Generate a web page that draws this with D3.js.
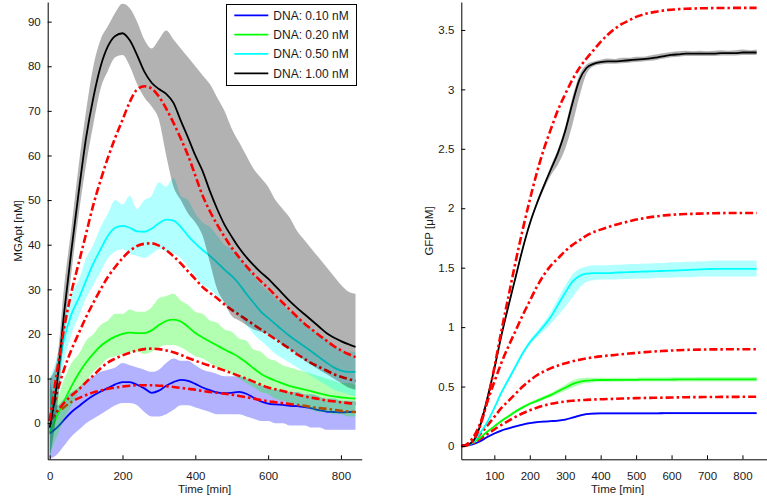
<!DOCTYPE html>
<html>
<head>
<meta charset="utf-8">
<script src="https://cdn.jsdelivr.net/npm/d3@7"></script>
<style>
  html, body { margin: 0; padding: 0; background: #fff; }
  svg { display: block; font-family: "Liberation Sans", Arial, Helvetica, sans-serif; }
</style>
</head>
<body>
<svg id="chart" width="767" height="500"></svg>
<script>
// ---------------- DATA ----------------
const seriesNames = ["DNA: 0.10 nM", "DNA: 0.20 nM", "DNA: 0.50 nM", "DNA: 1.00 nM"];
const seriesColors = ["#0000ff", "#00ff00", "#00ffff", "#000000"];
const modelColor = "#ff0000";

// Left panel: MGApt [nM] vs Time [min]
const timeL = [0,20,40,60,80,100,120,140,160,180,200,220,240,260,280,300,320,340,360,380,400,420,440,460,480,500,520,540,560,580,600,620,640,660,680,700,720,740,760,780,800,820,840];

const mgaBlue   = [-2.3,-1,0.8,2.5,3.8,5.1,6.2,7.1,7.9,8.7,9.2,9.2,8.6,7.8,6.8,7.3,8.4,9.2,9.7,9.5,8.8,8,7.4,6.9,6.7,6.8,7,6.6,5.7,4.9,4.4,4.2,4.1,3.9,3.8,3.6,3.3,2.9,2.6,2.5,2.4,2.5,2.5];
const mgaBlueHi = [10,4,5.5,7,8,9.5,10.5,11.5,12,12.5,13.5,13,12.5,12,11.5,12,13.5,14.5,14,14,13,12,11.5,11,10.5,10.5,10.5,10,9,8.5,8,7.5,7.5,7,7,6.5,6.5,6,5.5,5.5,5,5,5];
const mgaBlueLo = [-8,-7,-5,-3,-1.5,0,1,2,3,4,4.5,4.5,4,2.5,1.5,1.5,2,3,4,4,3.5,3,2.5,2,2,2,2,1.5,1,0.5,0.5,0,0,-0.5,-0.5,-0.5,-1,-1,-1.5,-1.5,-1.5,-1.5,-1.5];
const modelBlue = [0.5,2.2,3.6,4.8,5.6,6.3,6.9,7.3,7.7,8,8.2,8.4,8.5,8.5,8.5,8.4,8.3,8.1,7.9,7.7,7.5,7.2,7,6.8,6.6,6.4,6.1,5.8,5.5,5.2,4.9,4.7,4.5,4.3,4.1,3.9,3.6,3.4,3.2,3,2.8,2.6,2.5];

const mgaGreen   = [-2,1.5,5,8.3,11.2,13.6,15.6,17.3,18.5,19.4,20,20.3,20.2,20.2,20.8,22,22.9,23.2,22.8,21.6,20.2,19.2,18.3,17.4,16.5,15.7,14.8,13.6,12.3,11.1,10.2,9.5,8.9,8.3,7.9,7.5,7.1,6.7,6.3,6,5.8,5.6,5.5];
const mgaGreenHi = [8,6,10,13.5,15.5,18.5,20,22,23,24.5,24.5,25.5,25,25,26,28,28.5,29,27.5,26.5,25,24.5,23,22.5,21,20.5,19,18.5,16.5,16,14.5,14,13,12.5,12,11.5,11,10.5,10,9.5,9,9,8.5];
const mgaGreenLo = [-7,-3,1,4,7,9.5,11.5,13,14.5,15,15.5,16,16,15.5,16,17,17.5,17.5,17,16,15,14.5,13.5,12.5,12,11,10,9,8,7,6.5,5.5,5,4.5,4,3.5,3,2.5,2.5,2,2,1.5,1.5];
const modelGreen = [0.5,2.6,4.6,6.2,7.6,9.2,10.7,12.3,13.6,14.5,15.2,15.8,16.3,16.6,16.7,16.6,16.3,15.9,15.3,14.6,14,13.4,12.9,12.4,11.8,11.2,10.6,10,9.3,8.6,8,7.6,7.2,6.8,6.4,6,5.7,5.4,5.1,4.9,4.7,4.5,4.4];

const mgaCyan   = [-1.5,9.5,19,24.5,28,32,35.8,39,42,43.8,44.2,43.8,43,42.9,43.6,44.8,45.6,45.4,44,42,40.3,38.8,37.5,36,34.4,33,31.2,29,27,25,23.6,22.2,20.8,19.5,18.3,17.2,16,14.8,13.6,12.5,11.8,11.5,11.5];
const mgaCyanHi = [10,15,23,29,32,37,40,44,47,50,49,51,48,50,51,54,53,55,51,50,47,45,44,42,40,39,37,35,33,31,29.5,28,26.5,25,24,22.5,21,20,19,17.5,16.5,16,16];
const mgaCyanLo = [-8,4,14,20,24,28,31,34,37,38.5,39,38,37.5,37,38,39,38.5,38,37,35,33,31,30,28.5,27,25.5,24,22,20,18.5,17,15.5,14.5,13.5,12.5,11.5,10.5,9.5,8.5,7.5,7,6.5,6];
const modelCyan = [0.5,6.8,12.2,16.5,20.2,23.8,27,30,32.8,35,37,38.6,39.7,40.2,40.3,39.8,38.8,37.4,35.8,34,32.3,30.5,29.2,28,26.6,25.4,24.3,23.2,22.1,21,19.9,18.8,17.7,16.6,15.4,14.4,13.4,12.6,11.8,11,10.4,9.9,9.5];

const mgaBlack   = [-1,9,25,39,52,64,73,80,84.5,86.8,87.4,85.8,82.5,78.8,76.3,74.9,73.8,71.8,67.8,64,60,56.5,52,48,44.5,41.8,39.3,37.2,35.4,33.8,32.4,30.7,29,27.3,25.8,24.4,23,21.6,20.2,19.2,18.4,17.7,17.1];
const mgaBlackHi = [10,14,31,44,58,70,80,86,89,92,94,93,90,86,84,86,88,86,84,82,80,78,76,73,70,66,63,60,57,55,53,50,48,46,43,41,39,37,35,33,31,29.5,29];
const mgaBlackLo = [-8,3,20,34,47,58,67,75,79,82,82.5,80,76,73,71,68,60,53,50,47,45,42,36,30,27,24,23,22,21,20.5,20,19,17.5,16.5,15.5,14,13,12,11,10,9,8,7.5];
const modelBlack = [0.5,11.5,21.5,29.5,36,42.5,49,54.5,59.5,64,68,72,74.8,75.5,75,73.2,70.5,67.3,63.8,60,55.5,51,47.5,44.5,41.8,39.3,37.2,35.2,33.4,31.8,30.3,28.6,27,25.4,23.8,22.3,21,19.7,18.5,17.3,16.3,15.5,14.8];

// Right panel: GFP [uM] vs Time [min]
const timeR = [8,20,40,60,80,100,120,140,160,180,200,220,240,260,280,300,320,340,360,380,400,420,440,460,480,500,520,540,560,580,600,620,640,660,680,700,720,740,760,780,800,820,840];

const gfpBlue   = [0,0.003,0.015,0.04,0.075,0.105,0.13,0.148,0.165,0.18,0.192,0.2,0.205,0.209,0.213,0.222,0.238,0.255,0.268,0.273,0.275,0.275,0.275,0.275,0.275,0.275,0.275,0.275,0.275,0.276,0.276,0.276,0.276,0.276,0.276,0.276,0.276,0.276,0.276,0.276,0.276,0.276,0.276];
const gfpBlueHi = [0.008,0.011,0.023,0.048,0.083,0.113,0.138,0.156,0.173,0.188,0.2,0.208,0.213,0.217,0.221,0.23,0.246,0.263,0.276,0.281,0.283,0.283,0.284,0.283,0.284,0.283,0.284,0.283,0.284,0.285,0.284,0.285,0.284,0.285,0.284,0.285,0.284,0.285,0.284,0.285,0.284,0.285,0.284];
const gfpBlueLo = [-0.008,-0.005,0.007,0.032,0.067,0.097,0.122,0.14,0.157,0.172,0.184,0.192,0.197,0.201,0.205,0.214,0.23,0.247,0.26,0.265,0.267,0.267,0.266,0.267,0.266,0.267,0.266,0.267,0.266,0.268,0.267,0.268,0.267,0.268,0.267,0.268,0.267,0.268,0.267,0.268,0.267,0.268,0.267];
const modelGfpBlue = [0,0.005,0.025,0.06,0.1,0.14,0.177,0.212,0.245,0.275,0.3,0.322,0.34,0.355,0.366,0.374,0.38,0.385,0.388,0.391,0.393,0.395,0.397,0.399,0.401,0.403,0.404,0.405,0.406,0.407,0.408,0.409,0.41,0.411,0.411,0.412,0.412,0.413,0.413,0.413,0.414,0.414,0.414];

const gfpGreen   = [0,0.005,0.03,0.07,0.12,0.165,0.21,0.25,0.29,0.325,0.355,0.38,0.405,0.43,0.46,0.49,0.52,0.54,0.55,0.553,0.555,0.555,0.556,0.556,0.557,0.557,0.558,0.558,0.558,0.559,0.559,0.56,0.56,0.56,0.56,0.56,0.56,0.56,0.56,0.56,0.56,0.56,0.56];
const gfpGreenHi = [0.008,0.012,0.04,0.08,0.13,0.175,0.22,0.262,0.302,0.338,0.368,0.395,0.42,0.448,0.48,0.515,0.55,0.57,0.575,0.575,0.573,0.572,0.573,0.574,0.574,0.575,0.576,0.576,0.577,0.577,0.578,0.578,0.579,0.579,0.58,0.58,0.58,0.58,0.58,0.581,0.581,0.581,0.581];
const gfpGreenLo = [-0.008,-0.003,0.02,0.06,0.11,0.155,0.2,0.238,0.278,0.312,0.342,0.365,0.39,0.412,0.44,0.465,0.49,0.515,0.53,0.537,0.54,0.54,0.541,0.541,0.542,0.542,0.542,0.542,0.542,0.543,0.543,0.543,0.543,0.543,0.543,0.543,0.543,0.543,0.543,0.543,0.543,0.543,0.543];
const modelGfpGreen = [0,0.008,0.04,0.1,0.17,0.245,0.32,0.38,0.44,0.5,0.55,0.595,0.628,0.655,0.677,0.695,0.712,0.725,0.737,0.746,0.754,0.76,0.766,0.772,0.778,0.783,0.788,0.793,0.797,0.8,0.803,0.806,0.808,0.81,0.811,0.812,0.813,0.813,0.814,0.814,0.814,0.814,0.814];

const gfpCyan   = [0,0.005,0.03,0.11,0.2,0.32,0.45,0.56,0.67,0.78,0.87,0.94,1.01,1.09,1.19,1.29,1.38,1.43,1.45,1.455,1.455,1.455,1.458,1.46,1.462,1.465,1.467,1.469,1.471,1.473,1.475,1.477,1.48,1.483,1.486,1.488,1.49,1.49,1.49,1.49,1.49,1.49,1.49];
const gfpCyanHi = [0.01,0.015,0.04,0.12,0.215,0.335,0.465,0.58,0.69,0.8,0.89,0.965,1.04,1.13,1.24,1.35,1.44,1.49,1.51,1.52,1.52,1.52,1.525,1.525,1.53,1.53,1.535,1.535,1.54,1.54,1.545,1.545,1.55,1.55,1.555,1.555,1.56,1.56,1.56,1.56,1.56,1.56,1.56];
const gfpCyanLo = [-0.01,-0.005,0.02,0.1,0.185,0.305,0.435,0.54,0.65,0.76,0.85,0.915,0.97,1.03,1.1,1.17,1.25,1.33,1.38,1.395,1.4,1.4,1.4,1.405,1.405,1.41,1.41,1.41,1.415,1.415,1.415,1.42,1.42,1.42,1.425,1.425,1.425,1.425,1.425,1.425,1.425,1.425,1.425];
const modelGfpCyan = [0,0.01,0.07,0.19,0.37,0.54,0.7,0.84,0.97,1.1,1.22,1.34,1.44,1.52,1.58,1.64,1.69,1.73,1.77,1.8,1.82,1.84,1.86,1.875,1.89,1.905,1.915,1.925,1.933,1.94,1.945,1.948,1.951,1.953,1.955,1.957,1.958,1.959,1.96,1.96,1.96,1.96,1.96];

const gfpBlack   = [0,0.005,0.04,0.17,0.4,0.65,0.93,1.18,1.42,1.66,1.87,2.04,2.19,2.33,2.47,2.65,2.88,3.08,3.18,3.215,3.23,3.235,3.235,3.24,3.245,3.25,3.255,3.26,3.27,3.28,3.29,3.295,3.3,3.3,3.3,3.3,3.3,3.305,3.305,3.305,3.31,3.31,3.31];
const gfpBlackHi = [0.01,0.015,0.055,0.185,0.42,0.67,0.95,1.2,1.44,1.68,1.89,2.06,2.21,2.36,2.5,2.69,2.93,3.12,3.21,3.235,3.25,3.26,3.255,3.265,3.265,3.275,3.275,3.285,3.295,3.305,3.315,3.32,3.325,3.32,3.325,3.32,3.325,3.33,3.325,3.33,3.335,3.33,3.335];
const gfpBlackLo = [-0.01,-0.005,0.025,0.155,0.38,0.63,0.91,1.16,1.4,1.64,1.85,2.02,2.16,2.28,2.37,2.5,2.7,2.94,3.13,3.195,3.21,3.215,3.215,3.22,3.225,3.23,3.235,3.24,3.25,3.26,3.27,3.275,3.28,3.28,3.28,3.28,3.28,3.285,3.285,3.285,3.29,3.29,3.29];
const modelGfpBlack = [0,0.005,0.045,0.17,0.38,0.66,0.97,1.26,1.55,1.82,2.07,2.3,2.5,2.67,2.83,2.96,3.08,3.18,3.26,3.33,3.4,3.46,3.51,3.55,3.58,3.61,3.63,3.645,3.655,3.665,3.67,3.675,3.678,3.68,3.682,3.683,3.684,3.685,3.685,3.686,3.686,3.686,3.686];

// Ticks
const ticksLX = [0, 200, 400, 600, 800];
const ticksLY = [0, 10, 20, 30, 40, 50, 60, 70, 80, 90];
const ticksRX = [100, 200, 300, 400, 500, 600, 700, 800];
const ticksRY = [0, 0.5, 1, 1.5, 2, 2.5, 3, 3.5];

// ---------------- DRAW ----------------
const svg = d3.select("#chart");
const FONT = 11.5;
const TEXT = "#1a1a1a";

function panel(cfg) {
  const x = d3.scaleLinear().domain(cfg.xDomain).range(cfg.xRange);
  const y = d3.scaleLinear().domain(cfg.yDomain).range(cfg.yRange);
  const clipId = cfg.id + "-clip";
  svg.append("clipPath").attr("id", clipId).append("rect")
    .attr("x", cfg.xRange[0]).attr("y", cfg.yRange[1])
    .attr("width", cfg.xRange[1] - cfg.xRange[0])
    .attr("height", cfg.yRange[0] - cfg.yRange[1]);
  const g = svg.append("g").attr("clip-path", `url(#${clipId})`);

  cfg.series.forEach((s, i) => {
    const n = Math.min(cfg.time.length, s.mean.length, s.hi.length, s.lo.length);
    const pts = d3.range(n).map(k => ({t: cfg.time[k], m: s.mean[k], hi: s.hi[k], lo: s.lo[k]}));
    const area = d3.area().x(d => x(d.t)).y0(d => y(d.lo)).y1(d => y(d.hi)).curve(d3.curveMonotoneX);
    g.append("path").datum(pts).attr("d", area)
      .attr("fill", seriesColors[i]).attr("fill-opacity", 0.3).attr("stroke", "none");
    const line = d3.line().x(d => x(d.t)).y(d => y(d.m)).curve(d3.curveMonotoneX);
    g.append("path").datum(pts).attr("d", line)
      .attr("fill", "none").attr("stroke", seriesColors[i]).attr("stroke-width", 1.8)
      .attr("stroke-linejoin", "round");
    const mpts = d3.range(Math.min(cfg.time.length, s.model.length)).map(k => ({t: cfg.time[k], v: s.model[k]}));
    const mline = d3.line().x(d => x(d.t)).y(d => y(d.v)).curve(d3.curveMonotoneX);
    g.append("path").datum(mpts).attr("d", mline)
      .attr("fill", "none").attr("stroke", modelColor).attr("stroke-width", 2.6)
      .attr("stroke-dasharray", "8,3,2.5,3");
  });

  const ax = svg.append("g").attr("transform", `translate(0,${cfg.yRange[0]})`)
    .call(d3.axisBottom(x).tickValues(cfg.ticksX).tickSizeInner(-4).tickSizeOuter(0).tickPadding(13).tickFormat(d => String(d)));
  const ay = svg.append("g").attr("transform", `translate(${cfg.xRange[0]},0)`)
    .call(d3.axisLeft(y).tickValues(cfg.ticksY).tickSizeInner(-4).tickSizeOuter(0).tickPadding(7).tickFormat(d => String(d)));
  [ax, ay].forEach(a => {
    a.select(".domain").attr("stroke", "#000").attr("stroke-width", 1);
    a.selectAll(".tick line").attr("stroke", "#000").attr("stroke-width", 1);
    a.selectAll(".tick text").attr("fill", TEXT).style("font-size", FONT + "px")
      .style("font-family", '"Liberation Sans", Arial, Helvetica, sans-serif');
  });

  svg.append("text").attr("x", (cfg.xRange[0] + cfg.xRange[1]) / 2).attr("y", 493)
    .attr("text-anchor", "middle").attr("fill", TEXT).style("font-size", FONT + "px").text("Time [min]");
  svg.append("text").attr("transform", `translate(${cfg.yLabelX},231) rotate(-90)`)
    .attr("text-anchor", "middle").attr("fill", TEXT).style("font-size", FONT + "px").text(cfg.yLabel);
}

panel({
  id: "left",
  time: timeL,
  xDomain: [-5.5, 857], xRange: [47.7, 361.7],
  yDomain: [-8.1, 94.4], yRange: [459.3, 2],
  ticksX: ticksLX, ticksY: ticksLY,
  yLabel: "MGApt [nM]", yLabelX: 22,
  series: [
    {mean: mgaBlue, hi: mgaBlueHi, lo: mgaBlueLo, model: modelBlue},
    {mean: mgaGreen, hi: mgaGreenHi, lo: mgaGreenLo, model: modelGreen},
    {mean: mgaCyan, hi: mgaCyanHi, lo: mgaCyanLo, model: modelCyan},
    {mean: mgaBlack, hi: mgaBlackHi, lo: mgaBlackLo, model: modelBlack}
  ]
});

panel({
  id: "right",
  time: timeR,
  xDomain: [6.8, 889], xRange: [461.3, 774],
  yDomain: [-0.112, 3.735], yRange: [459.3, 2],
  ticksX: ticksRX, ticksY: ticksRY,
  yLabel: "GFP [\u03BCM]", yLabelX: 433,
  series: [
    {mean: gfpBlue, hi: gfpBlueHi, lo: gfpBlueLo, model: modelGfpBlue},
    {mean: gfpGreen, hi: gfpGreenHi, lo: gfpGreenLo, model: modelGfpGreen},
    {mean: gfpCyan, hi: gfpCyanHi, lo: gfpCyanLo, model: modelGfpCyan},
    {mean: gfpBlack, hi: gfpBlackHi, lo: gfpBlackLo, model: modelGfpBlack}
  ]
});

// Legend
const legend = svg.append("g");
legend.append("rect").attr("x", 226.5).attr("y", 4.5).attr("width", 130).attr("height", 81)
  .attr("fill", "#fff").attr("stroke", "#000").attr("stroke-width", 1);
const legendY = d3.scalePoint().domain(seriesNames).range([15.3, 73.3]);
seriesNames.forEach((name, i) => {
  legend.append("line").attr("x1", 234.3).attr("x2", 268.3)
    .attr("y1", legendY(name)).attr("y2", legendY(name))
    .attr("stroke", seriesColors[i]).attr("stroke-width", 1.8);
  legend.append("text").attr("x", 273.3).attr("y", legendY(name)).attr("dy", "0.35em")
    .attr("fill", TEXT).style("font-size", "12px").text(name);
});
</script>
</body>
</html>
